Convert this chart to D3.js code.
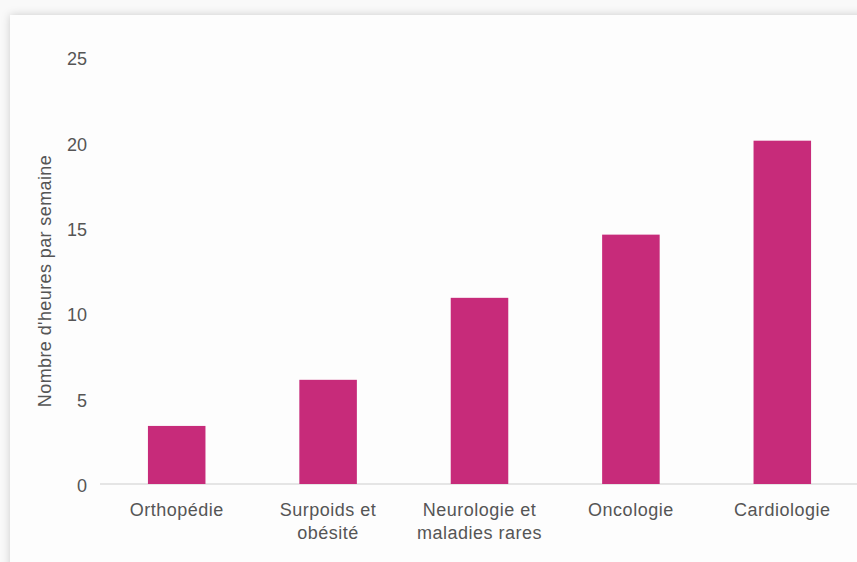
<!DOCTYPE html>
<html>
<head>
<meta charset="utf-8">
<script src="https://cdn.jsdelivr.net/npm/d3@7"></script>
<style>
  html, body { margin: 0; padding: 0; background: #f7f7f7; }
  svg { display: block; }
  text { font-family: "Liberation Sans", Arial, Helvetica, sans-serif; fill: #555; }
</style>
</head>
<body>
<div id="chart"></div>
<script>
const categories = ["Orthopédie", "Surpoids et|obésité", "Neurologie et|maladies rares", "Oncologie", "Cardiologie"];
const values = [3.4, 6.1, 10.9, 14.6, 20.1];
const yTicks = [0, 5, 10, 15, 20, 25];
const yTitle = "Nombre d'heures par semaine";

const W = 857, H = 562;
const svg = d3.select("#chart").append("svg").attr("width", W).attr("height", H);

const defs = svg.append("defs");
const f = defs.append("filter").attr("id", "shadow").attr("x", "-5%").attr("y", "-5%").attr("width", "110%").attr("height", "110%");
f.append("feDropShadow").attr("dx", 0).attr("dy", 0).attr("stdDeviation", 4).attr("flood-color", "#000").attr("flood-opacity", 0.18);

svg.append("rect").attr("x", 0).attr("y", 0).attr("width", W).attr("height", H).attr("fill", "#f9f9f9");
svg.append("rect").attr("x", 10).attr("y", 15).attr("width", W + 20).attr("height", H + 20)
  .attr("fill", "#fdfdfd").attr("filter", "url(#shadow)");

const x = d3.scaleBand().domain(categories).range([101, 858]).paddingInner(0.62).paddingOuter(0.31);
const y = d3.scaleLinear().domain([0, 25]).range([484, 57]);

// y axis labels
const yAxis = d3.axisLeft(y).tickValues(yTicks).tickSize(0).tickPadding(0);
const gy = svg.append("g").attr("transform", "translate(87,2)").call(yAxis);
gy.select(".domain").remove();
gy.selectAll("text").style("font-size", "18px").attr("fill", "#555")
  .style("font-family", '"Liberation Sans", Arial, sans-serif');

// baseline
svg.append("line").attr("x1", 100).attr("x2", W).attr("y1", y(0)).attr("y2", y(0))
  .attr("stroke", "#dcdcdc").attr("stroke-width", 1.5);

// bars
svg.append("g").selectAll("rect").data(values).join("rect")
  .attr("x", (d, i) => x(categories[i]))
  .attr("width", x.bandwidth())
  .attr("y", d => y(d))
  .attr("height", d => y(0) - y(d))
  .attr("fill", "#c72b7a");

// x labels
const xl = svg.append("g").selectAll("text").data(categories).join("text")
  .attr("x", d => x(d) + x.bandwidth() / 2)
  .attr("y", 516)
  .attr("text-anchor", "middle")
  .style("font-size", "18px")
  .style("letter-spacing", "0.5px");
xl.each(function(d) {
  const parts = d.split("|");
  const t = d3.select(this);
  parts.forEach((p, k) => {
    t.append("tspan").attr("x", x(d) + x.bandwidth() / 2).attr("dy", k === 0 ? 0 : 23).text(p);
  });
});

// y title
svg.append("text")
  .attr("transform", "translate(51," + 281 + ") rotate(-90)")
  .attr("text-anchor", "middle")
  .style("font-size", "18px")
  .style("letter-spacing", "0.4px")
  .text(yTitle);
</script>
</body>
</html>
